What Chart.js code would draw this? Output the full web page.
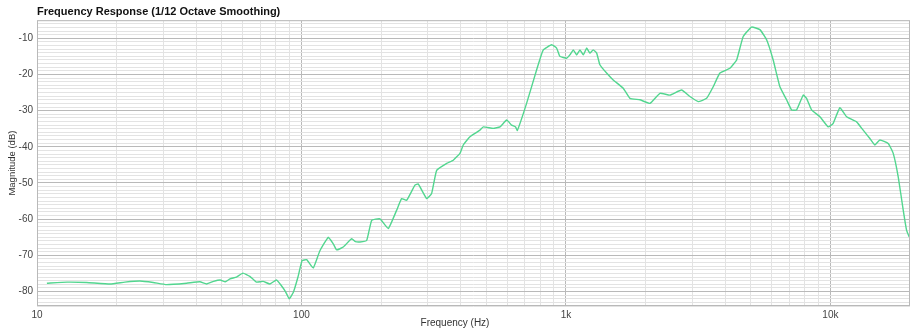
<!DOCTYPE html>
<html>
<head>
<meta charset="utf-8">
<script src="https://cdn.jsdelivr.net/npm/chart.js@4/dist/chart.umd.min.js"></script>
<style>
  html, body { margin: 0; padding: 0; background: #fff; }
  #wrap { width: 910px; height: 329px; }
</style>
</head>
<body>
<div id="wrap"><canvas id="fr"></canvas></div>
<script>
// Measured response, 1/12 octave smoothed
const freqHz = [
  10.9, 13, 15.4, 18.9, 21.5, 24.5, 27.5, 30.9, 36.8, 41.3, 43.8, 46.5, 49.3, 51.5, 53.7, 56.8,
  60.1, 63.8, 67.6, 71.6, 76, 80.5, 84, 87, 89.9, 93.2, 97, 100.5, 104.6, 110.8, 117.3,
  126.3, 131.9, 135.9, 143.9, 154.8, 160, 166.4, 176.4, 184.3, 198.1, 212.9, 229.1, 239.3,
  249.9, 268.6, 276.5, 297.4, 310.6, 324.5, 354, 374.9, 397.5, 409, 433.6, 473, 486.8, 531,
  563, 597, 623, 645, 655, 710, 775, 821, 883, 922, 949, 1006, 1035, 1066, 1098, 1130, 1163,
  1198, 1232, 1268, 1307, 1344, 1425, 1509, 1647, 1746, 1905, 2078, 2267, 2474, 2737, 2943,
  3164, 3403, 3605, 3821, 4169, 4420, 4681, 5035, 5413, 5739, 6077, 6443, 6830, 7134, 7451,
  7893, 8128, 8490, 9128, 9811, 10247, 10862, 11515, 12565, 13305, 14104, 14731, 15386,
  16544, 17282, 18051, 18854, 19417, 19860
];
const magnitudeDb = [
  -77.7, -77.4, -77.5, -77.9, -77.4, -77.1, -77.5, -78.1, -77.7, -77.3, -77.9, -77.2, -76.8, -77.3, -76.5, -76.0,
  -74.9, -75.8, -77.4, -77.2, -77.9, -76.8, -78.4, -80.0, -82.0, -80.2, -76.0, -71.5, -71.2, -73.5, -68.8,
  -65.0, -66.8, -68.5, -67.7, -65.4, -66.2, -66.3, -65.9, -60.3, -59.9, -62.6, -57.5, -54.3,
  -54.8, -50.6, -50.3, -54.3, -52.9, -46.5, -44.6, -43.7, -41.8, -39.5, -37.2, -35.4, -34.5, -34.9,
  -34.5, -32.6, -34.0, -34.5, -35.5, -28.0, -18.7, -13.2, -11.8, -12.7, -15.0, -15.5, -14.6, -13.2, -14.6, -13.2, -14.6,
  -12.7, -14.1, -13.2, -14.1, -17.3, -19.6, -21.5, -23.8, -26.6, -27.0, -28.0, -25.2, -25.7, -24.3, -26.1,
  -27.5, -26.6, -23.4, -19.6, -18.3, -16.0, -9.5, -6.9, -7.6, -10.4, -16.0, -23.4, -27.0, -29.8, -29.8,
  -25.7, -26.6, -29.8, -31.7, -34.5, -33.5, -29.2, -31.7, -33.1, -35.4, -37.7, -39.5, -38.1,
  -39.1, -41.8, -48.3, -57.5, -63.1, -64.9
];

// Axis labelling
const xDecades = [10, 100, 1000, 10000];
const xDecadeLabels = ['10', '100', '1k', '10k'];
const yMajorTicks = [-80, -70, -60, -50, -40, -30, -20, -10];
const X_MIN = 10, X_MAX = 20000, Y_MIN = -84, Y_MAX = -5;

const FONT = '"Liberation Sans", Arial, Helvetica, sans-serif';
const MAJOR_GRID = '#b9b9b9';
const MINOR_GRID = '#e3e3e3';

// 1..9 x each decade, for the grid
const xGrid = [];
xDecades.forEach(d => { for (let m = 1; m <= 9; m++) { const v = d * m; if (v >= X_MIN && v <= X_MAX) xGrid.push(v); } });
xGrid.push(X_MAX);
const yGrid = [];
for (let v = Y_MIN; v <= Y_MAX; v++) yGrid.push(v);

const points = freqHz.map((f, i) => ({ x: f, y: magnitudeDb[i] }));

const frameAndXTitle = {
  id: 'frameAndXTitle',
  afterDraw(chart) {
    const { ctx, chartArea: a } = chart;
    ctx.save();
    ctx.strokeStyle = MAJOR_GRID;
    ctx.lineWidth = 1;
    ctx.strokeRect(a.left + 0.5, a.top + 0.5, a.right - a.left - 1, a.bottom - a.top - 1);
    ctx.fillStyle = '#333';
    ctx.font = '10px ' + FONT;
    ctx.textAlign = 'center';
    ctx.textBaseline = 'middle';
    ctx.fillText('Frequency (Hz)', chart.width / 2, chart.height - 6);
    ctx.restore();
  }
};

new Chart(document.getElementById('fr'), {
  type: 'line',
  data: {
    datasets: [{
      data: points,
      borderColor: '#52d68f',
      borderWidth: 1.4,
      pointRadius: 0,
      tension: 0.12,
      fill: false
    }]
  },
  options: {
    responsive: true,
    maintainAspectRatio: false,
    animation: false,
    layout: { padding: 0 },
    plugins: {
      legend: { display: false },
      tooltip: { enabled: false },
      title: {
        display: true,
        text: 'Frequency Response (1/12 Octave Smoothing)',
        align: 'start',
        fullSize: false,
        color: '#111',
        font: { family: FONT, size: 11, weight: 'bold' },
        padding: { top: 5, bottom: 2 }
      }
    },
    scales: {
      x: {
        type: 'logarithmic',
        min: X_MIN,
        max: X_MAX,
        afterBuildTicks: s => { s.ticks = xGrid.map(v => ({ value: v })); },
        afterFit: s => { s.height = 23; s.paddingLeft = 0; s.paddingRight = 0; },
        ticks: {
          autoSkip: false,
          maxRotation: 0,
          padding: 3,
          color: '#444',
          font: { family: FONT, size: 10 },
          callback: v => { const i = xDecades.indexOf(v); return i >= 0 ? xDecadeLabels[i] : ''; }
        },
        grid: {
          drawTicks: false,
          color: c => (c.tick && xDecades.includes(c.tick.value)) ? MAJOR_GRID : MINOR_GRID,
          lineWidth: 1
        },
        border: { display: false }
      },
      y: {
        type: 'linear',
        min: Y_MIN,
        max: Y_MAX,
        afterBuildTicks: s => { s.ticks = yGrid.map(v => ({ value: v })); },
        afterFit: s => { s.width = 37; s.paddingTop = 0; s.paddingBottom = 0; },
        ticks: {
          autoSkip: false,
          padding: 4,
          color: '#444',
          font: { family: FONT, size: 10 },
          callback: v => yMajorTicks.includes(v) ? String(v) : ''
        },
        grid: {
          drawTicks: false,
          color: c => (c.tick && yMajorTicks.includes(c.tick.value)) ? MAJOR_GRID : MINOR_GRID,
          lineWidth: 1
        },
        border: { display: false },
        title: {
          display: true,
          text: 'Magnitude (dB)',
          color: '#333',
          font: { family: FONT, size: 9.5 },
          padding: { top: 7, bottom: 0 }
        }
      }
    }
  },
  plugins: [frameAndXTitle]
});
</script>
</body>
</html>
